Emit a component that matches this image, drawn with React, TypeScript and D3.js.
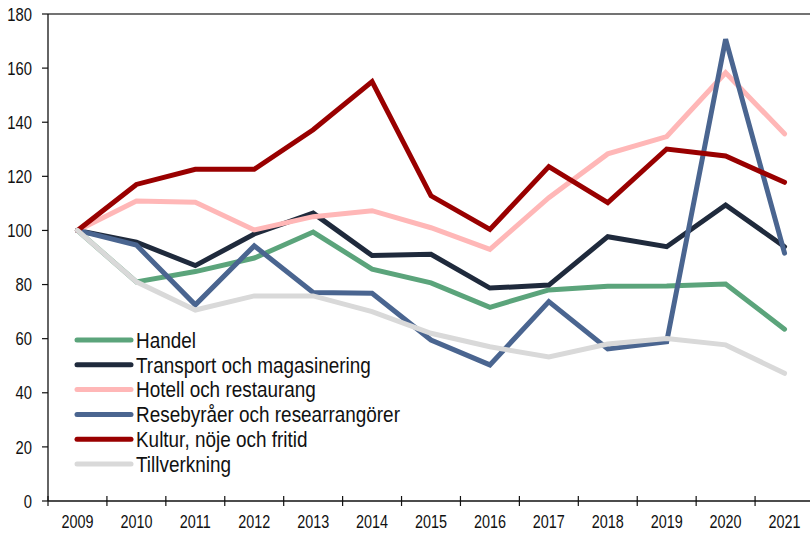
import * as d3 from "d3";

const years = ["2009", "2010", "2011", "2012", "2013", "2014", "2015", "2016", "2017", "2018", "2019", "2020", "2021"];
const yTicks = [0, 20, 40, 60, 80, 100, 120, 140, 160, 180];

const handel = [100, 81, 84.8, 89.8, 99.4, 85.7, 80.6, 71.6, 78, 79.4, 79.5, 80.2, 63.5];
const transport = [100, 95.7, 87, 98.7, 106.4, 90.7, 91.2, 78.7, 79.8, 97.7, 94, 109.4, 94];
const hotell = [100, 110.9, 110.4, 100.2, 105.1, 107.3, 101, 93, 112.1, 128.3, 134.7, 158.3, 135.7];
const resebyraer = [100, 94.6, 72.5, 94.3, 77.1, 76.8, 59.5, 50.3, 73.7, 56.2, 58.9, 170.7, 91.6];
const kultur = [100, 117, 122.6, 122.6, 137.2, 155, 112.8, 100.4, 123.6, 110.3, 130.1, 127.5, 117.8];
const tillverkning = [100, 81, 70.6, 75.8, 75.8, 70, 62, 57, 53.2, 58, 60.1, 57.7, 47.2];

const seriesNames = [
  "Handel",
  "Transport och magasinering",
  "Hotell och restaurang",
  "Resebyråer och researrangörer",
  "Kultur, nöje och fritid",
  "Tillverkning",
];
const seriesValues = [handel, transport, hotell, resebyraer, kultur, tillverkning];
const colors = ["#5ba47b", "#1f2a3c", "#ffb7b7", "#4a6590", "#990000", "#d9d9d9"];

const W = 810;
const H = 534;
// no narrow font installed, so squeeze Liberation Sans horizontally
const font = "'Liberation Sans', Arimo, Arial, sans-serif";

const NarrowText = ({
  x,
  y,
  size,
  sx,
  anchor = "start",
  children,
}: {
  x: number;
  y: number;
  size: number;
  sx: number;
  anchor?: "start" | "middle" | "end";
  children: string | number;
}) => (
  <text
    transform={`translate(${x},${y}) scale(${sx},1)`}
    textAnchor={anchor}
    fontSize={size}
    dy="0.36em"
    fill="#111"
  >
    {children}
  </text>
);

export default function App() {
  const left = 48;
  const top = 14;
  const bottom = 501;
  const right = 814;

  const x = d3.scaleBand<string>().domain(years).range([left, right]);
  const y = d3.scaleLinear().domain([0, 180]).range([bottom, top]);
  const cx = (yr: string) => x(yr)! + x.bandwidth() / 2;

  const line = d3
    .line<number>()
    .x((_, i) => cx(years[i]))
    .y((v) => y(v));

  const legendX1 = 77;
  const legendX2 = 131;
  const legendY0 = 340;
  const legendStep = 24.8;

  return (
    <svg
      width={W}
      height={H}
      style={{ position: "absolute", left: 0, top: 0, background: "#fff" }}
      fontFamily={font}
    >
      {/* top frame line */}
      <line x1={left} x2={right} y1={top} y2={top} stroke="#444" strokeWidth={1.3} />

      {/* y axis */}
      <line x1={left} x2={left} y1={top} y2={bottom} stroke="#111" strokeWidth={1.3} />
      {yTicks.map((t) => (
        <g key={t}>
          <line x1={left - 6} x2={left} y1={y(t)} y2={y(t)} stroke="#111" strokeWidth={1.2} />
          <NarrowText x={32} y={y(t)} size={18.5} sx={0.8} anchor="end">
            {t}
          </NarrowText>
        </g>
      ))}

      {/* x axis */}
      <line x1={left} x2={right} y1={bottom} y2={bottom} stroke="#111" strokeWidth={1.3} />
      {years.map((yr) => (
        <g key={yr}>
          <line x1={x(yr)!} x2={x(yr)!} y1={bottom - 5} y2={bottom + 5} stroke="#111" strokeWidth={1.2} />
          <NarrowText x={cx(yr)} y={522} size={18} sx={0.8} anchor="middle">
            {yr}
          </NarrowText>
        </g>
      ))}

      {/* series */}
      {seriesValues.map((vals, i) => (
        <path
          key={seriesNames[i]}
          d={line(vals)!}
          fill="none"
          stroke={colors[i]}
          strokeWidth={5}
          strokeLinejoin="miter"
          strokeLinecap="round"
        />
      ))}

      {/* legend */}
      {seriesNames.map((name, i) => {
        const ly = legendY0 + i * legendStep;
        return (
          <g key={name}>
            <line
              x1={legendX1}
              x2={legendX2}
              y1={ly}
              y2={ly}
              stroke={colors[i]}
              strokeWidth={5}
              strokeLinecap="round"
            />
            <NarrowText x={136} y={ly} size={21.5} sx={0.88}>
              {name}
            </NarrowText>
          </g>
        );
      })}
    </svg>
  );
}
